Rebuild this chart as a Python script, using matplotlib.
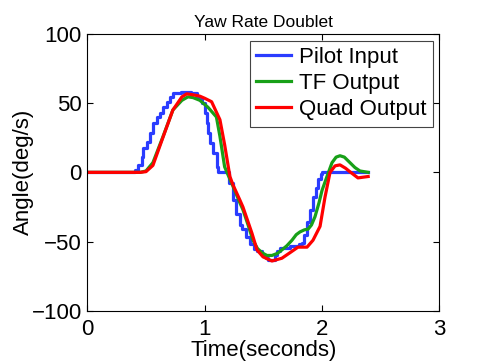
import numpy as np
import matplotlib
matplotlib.use("Agg")
import matplotlib.pyplot as plt

# Pilot input (escalones)
t_pilot = [0.0, 0.405, 0.433, 0.462, 0.476, 0.505, 0.533, 0.561, 0.590, 0.618, 0.646,
           0.675, 0.703, 0.732, 0.80, 0.88, 0.934, 0.974, 1.002, 1.016, 1.030, 1.045,
           1.073, 1.102, 1.116, 1.19, 1.21, 1.241, 1.27, 1.30, 1.317, 1.35, 1.386,
           1.42, 1.45, 1.488, 1.52, 1.539, 1.58, 1.60, 1.62, 1.642, 1.727, 1.80, 1.829,
           1.85, 1.872, 1.90, 1.923, 1.945, 1.966, 1.99, 2.0, 2.39]
v_pilot = [0, 1.8, 5.4, 11.4, 17.7, 22.2, 28.5, 35.7, 40.3, 42.9, 47.5,
           51.1, 54.7, 57.2, 58, 57.2, 53.6, 50, 42.7, 35.5, 28.3, 21,
           13.9, 4.2, 0.6, 0, -8, -20, -30, -38, -41, -47, -52,
           -55, -57, -60, -62, -63, -63, -60, -57, -54.5, -53, -52, -51,
           -45, -36, -27, -18, -11, -5, -1, 0, 0]

# Salida de la funcion de transferencia
t_tf = [0.0, 0.45, 0.50, 0.559, 0.644, 0.729, 0.806, 0.857, 0.90, 0.959, 1.028, 1.10,
        1.13, 1.17, 1.20, 1.241, 1.30, 1.326, 1.37, 1.411, 1.45, 1.488, 1.53, 1.573,
        1.62, 1.658, 1.70, 1.744, 1.78, 1.812, 1.85, 1.881, 1.91, 1.940, 1.974, 2.00,
        2.042, 2.085, 2.12, 2.153, 2.19, 2.238, 2.28, 2.323, 2.393]
v_tf = [0, 0, 1, 7, 25.6, 45, 52, 54.5, 54, 52, 47, 40,
        26, 4, -2, -10, -22, -27, -38, -49, -55, -58, -60, -60,
        -58.5, -56, -53, -49, -45, -43, -41.5, -41, -38, -32, -22, -13,
        -3, 7, 11, 12, 11, 7, 3.5, 1, 0]

# Salida del quadrotor
t_quad = [0.0, 0.45, 0.50, 0.559, 0.635, 0.729, 0.806, 0.848, 0.90, 0.959, 1.00, 1.059,
          1.13, 1.17, 1.215, 1.241, 1.30, 1.326, 1.403, 1.446, 1.497, 1.573, 1.658,
          1.727, 1.795, 1.872, 1.923, 1.983, 2.025, 2.068, 2.111, 2.153, 2.20, 2.238,
          2.306, 2.393]
v_quad = [0, 0, 0.5, 5, 23, 45, 54.5, 56.7, 56, 55, 53.5, 51,
          38, 20, -3, -9, -20, -25, -44, -56, -61, -64, -62,
          -58, -54, -54, -49, -39, -18, 0, 4.7, 5.4, 3, 0.4,
          -4, -3]

fig = plt.figure(figsize=(4.85, 3.64), dpi=100)
ax = fig.add_axes([0.180, 0.146, 0.726, 0.761])

ax.plot(t_pilot, v_pilot, color='#2a3cff', linewidth=2.3, drawstyle='steps-post', label='Pilot Input')
ax.plot(t_tf, v_tf, color='#18a018', linewidth=2.3, label='TF Output')
ax.plot(t_quad, v_quad, color='#ff0000', linewidth=2.3, label='Quad Output')

ax.set_xlim(0, 3)
ax.set_ylim(-100, 100)
ax.set_xticks([0, 1, 2, 3])
ax.set_yticks([-100, -50, 0, 50, 100])
ax.tick_params(direction='in', top=True, right=True, length=4, labelsize=16)
ax.tick_params(axis='x', pad=6)
ax.tick_params(axis='y', pad=4)
for s in ax.spines.values():
    s.set_linewidth(0.8)

fuente = 'Liberation Sans'
for lab in ax.get_xticklabels() + ax.get_yticklabels():
    lab.set_family(fuente)

ax.set_xlabel('Time(seconds)', fontsize=16, family=fuente, labelpad=0)
ax.set_ylabel('Angle(deg/s)', fontsize=16, family=fuente, labelpad=-2)
ax.set_title('Yaw Rate Doublet', fontsize=12.5, family=fuente, pad=5)

leg = ax.legend(loc='upper right', fancybox=False, edgecolor='#444444', framealpha=1,
                prop={'family': fuente, 'size': 16}, handlelength=1.55, handletextpad=0.35,
                labelspacing=0.22, borderpad=0.3, borderaxespad=0.3)
leg.get_frame().set_linewidth(0.8)

fig.savefig('out.png', dpi=100)
